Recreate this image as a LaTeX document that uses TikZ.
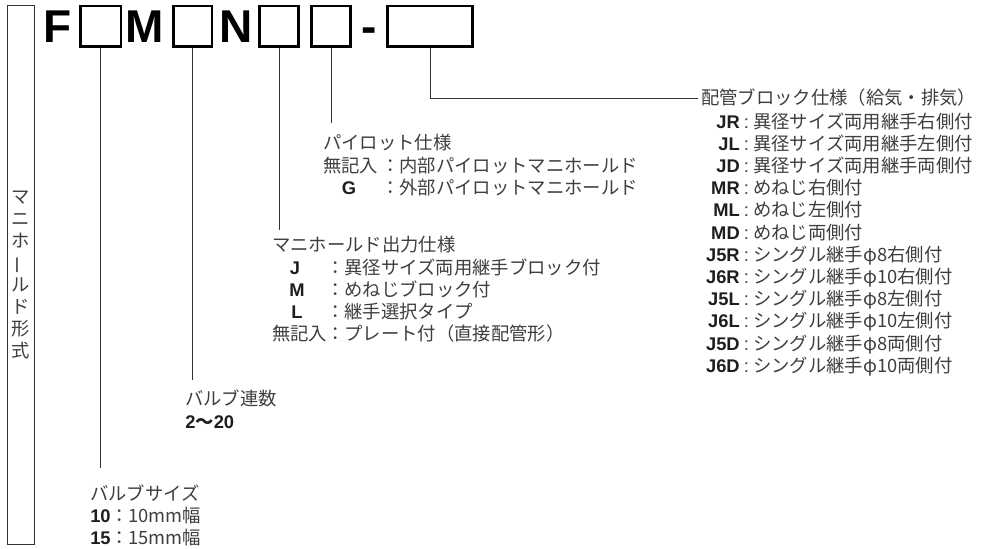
\documentclass[tikz,border=0pt]{standalone}
\usepackage{fontspec}
\usepackage{graphicx}
\setmainfont{Liberation Sans}
\newfontfamily\jp{Noto Sans CJK JP}
\usepackage{tikz}
\definecolor{inkgray} {RGB}{ 62, 62, 62}
\definecolor{codegray}{RGB}{ 30, 30, 30}
\definecolor{linegray}{RGB}{ 50, 50, 50}
\newcommand\csep{{\normalfont :}\hspace{3.3pt}}

\begin{document}
\begin{tikzpicture}[
  x=0.75pt, y=-0.75pt,
  big/.style={font=\fontsize{34.5}{34.5}\selectfont\bfseries,
    text=black, inner sep=0pt, anchor=base west},
  slot/.style={draw=black, line width=1.9pt, minimum height=30.4pt,
    inner sep=0pt},
  txt/.style={font=\jp\fontsize{13.75}{16.5}\selectfont, text=inkgray,
    inner sep=0pt, anchor=base west},
  code/.style={font=\fontsize{13.75}{16.5}\selectfont\bfseries,
    text=codegray, inner sep=0pt, anchor=base east},
  kindbox/.style={draw=linegray, line width=0.75pt,
    minimum width=20.25pt, minimum height=404pt, inner sep=0pt,
    font=\jp\fontsize{13.75}{16.5}\selectfont, text=inkgray, align=center},
  lead/.style={draw=linegray, line width=0.75pt}
]
  \useasboundingbox (0,0) rectangle (984,549);
  % model code
  \node[kindbox] (kind) at (21,275)
    {マ\\ニ\\ホ\\\rotatebox[origin=c]{90}{ー}\\ル\\ド\\形\\式};
  \node[big] (F) at (43.6,43) {F};
  \node[slot, minimum width=30.4pt] (s1) at (100.5,26.5) {};
  \node[big] (M) at (125.6,43) {M};
  \node[slot, minimum width=28.9pt] (s2) at (192.5,26.5) {};
  \node[big] (N) at (219.6,43) {N};
  \node[slot, minimum width=29.6pt] (s3) at (279,26.5) {};
  \node[slot, minimum width=29.6pt] (s4) at (331,26.5) {};
  \node[big] (dash) at (361,43) {-};
  \node[slot, minimum width=63.4pt] (s5) at (430,26.5) {};
  % leader ends
  \coordinate (e1) at (101,468);
  \coordinate (e2) at (194,380);
  \coordinate (e3) at (278,230);
  \coordinate (e4) at (332,123);

  % valve size
  \node[txt] (vsize) at (90,500) {バルブサイズ};
  \node[code, anchor=base west] (v10) at (90,522) {10};
  \node[txt] (v10d) at (110,522) {：10mm幅};
  \node[code, anchor=base west] (v15) at (90,544) {15};
  \node[txt] (v15d) at (110,544) {：15mm幅};
  % valve count
  \node[txt] (vcount) at (185,405) {バルブ連数};
  \node[code, anchor=base west] (vrange) at (185,428) {2{\jp ～}20};
  % manifold output
  \node[txt] (mout) at (272,251) {マニホールド出力仕様};
  \node[code, anchor=base] (mj) at (295,274) {J};
  \node[txt] (mjd) at (326,274) {：異径サイズ両用継手ブロック付};
  \node[code, anchor=base] (mm) at (297,296) {M};
  \node[txt] (mmd) at (326,296) {：めねじブロック付};
  \node[code, anchor=base] (ml) at (297,318) {L};
  \node[txt] (mld) at (326,318) {：継手選択タイプ};
  \node[txt] (mnone) at (272,340) {無記入};
  \node[txt] (mnoned) at (326,340) {：プレート付（直接配管形）};
  % pilot
  \node[txt] (pilot) at (323,150) {パイロット仕様};
  \node[txt] (pnone) at (323,172) {無記入};
  \node[txt] (pnoned) at (381,172) {：内部パイロットマニホールド};
  \node[code, anchor=base] (pg) at (349,194) {G};
  \node[txt] (pgd) at (381,194) {：外部パイロットマニホールド};
  % piping block
  \node[txt] (cfg) at (701,105) {配管ブロック仕様（給気・排気）};
  \node[code] (jr) at (740,128) {JR};
  \node[txt] (jrd) at (743.5,128) {\csep 異径サイズ両用継手右側付};
  \node[code] (jl) at (740,150.2) {JL};
  \node[txt] (jld) at (743.5,150.2) {\csep 異径サイズ両用継手左側付};
  \node[code] (jd) at (740,172.4) {JD};
  \node[txt] (jdd) at (743.5,172.4) {\csep 異径サイズ両用継手両側付};
  \node[code] (mr) at (740,194.6) {MR};
  \node[txt] (mrd) at (743.5,194.6) {\csep めねじ右側付};
  \node[code] (mlf) at (740,216.8) {ML};
  \node[txt] (mlfd) at (743.5,216.8) {\csep めねじ左側付};
  \node[code] (md) at (740,239) {MD};
  \node[txt] (mdd) at (743.5,239) {\csep めねじ両側付};
  \node[code] (j5r) at (740,261.2) {J5R};
  \node[txt] (j5rd) at (743.5,261.2) {\csep シングル継手φ8右側付};
  \node[code] (j6r) at (740,283.4) {J6R};
  \node[txt] (j6rd) at (743.5,283.4) {\csep シングル継手φ10右側付};
  \node[code] (j5l) at (740,305.6) {J5L};
  \node[txt] (j5ld) at (743.5,305.6) {\csep シングル継手φ8左側付};
  \node[code] (j6l) at (740,327.8) {J6L};
  \node[txt] (j6ld) at (743.5,327.8) {\csep シングル継手φ10左側付};
  \node[code] (j5d) at (740,350) {J5D};
  \node[txt] (j5dd) at (743.5,350) {\csep シングル継手φ8両側付};
  \node[code] (j6d) at (740,372.2) {J6D};
  \node[txt] (j6dd) at (743.5,372.2) {\csep シングル継手φ10両側付};

  % Leaders
  \draw[lead] (s1.south) -- (s1.south |- e1);
  \draw[lead] (s2.south) -- (s2.south |- e2);
  \draw[lead] (s3.south) -- (s3.south |- e3);
  \draw[lead] (s4.south) -- (s4.south |- e4);
  \draw[lead, shorten >=2.5pt] (s5.south) |- (cfg.west);
\end{tikzpicture}
\end{document}
